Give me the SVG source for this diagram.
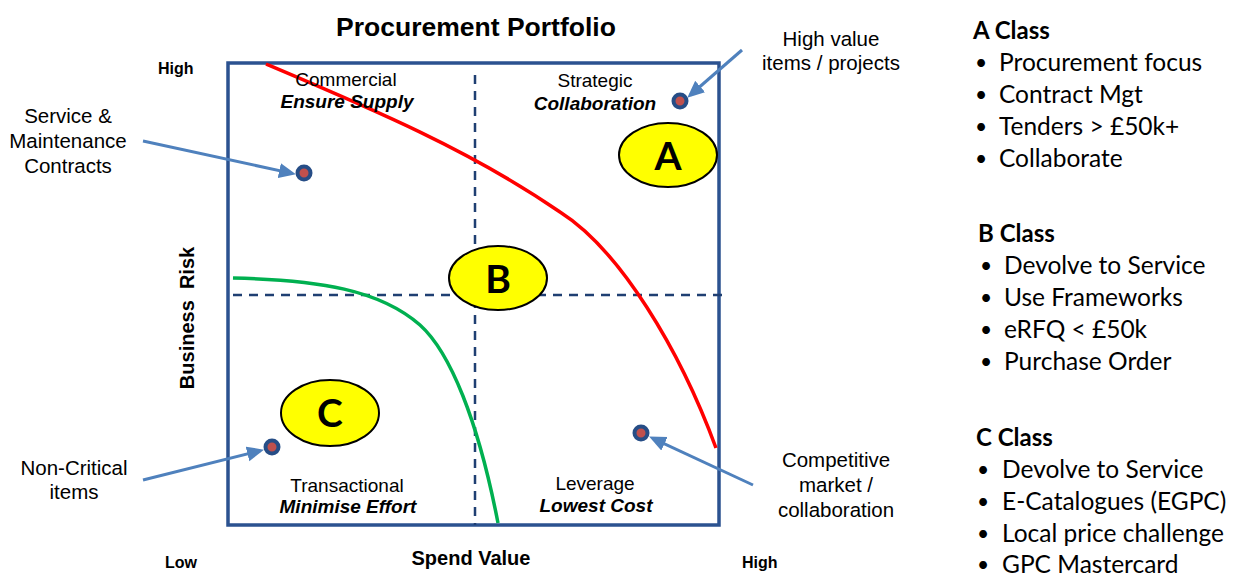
<svg xmlns="http://www.w3.org/2000/svg" width="1239" height="576" viewBox="0 0 1239 576">
<style>
.a{font-family:"Liberation Sans",Arial,sans-serif;fill:#000}
.t{font-size:26.5px;font-weight:bold;text-anchor:middle}
.ax{font-size:16px;font-weight:bold}
.axl{font-size:20px;font-weight:bold;text-anchor:middle}
.q{font-size:19px;text-anchor:middle}
.qb{font-size:19px;font-weight:bold;font-style:italic;text-anchor:middle}
.s{font-size:20.5px;text-anchor:middle}
.r{font-family:Lato,"Noto Sans",sans-serif;font-size:24.5px;fill:#000}
.bu{font-family:Lato,"Noto Sans",sans-serif;font-size:21px;fill:#000}
.rb{font-family:Lato,"Noto Sans",sans-serif;font-size:24px;font-weight:bold;fill:#000}
.el{fill:#FFFF00;stroke:#000;stroke-width:2}
.lt{font-family:Lato,"Noto Sans",sans-serif;font-size:39px;font-weight:bold;text-anchor:middle;fill:#000}
.dot{fill:#C0504D;stroke:#264D86;stroke-width:4}
.arr{stroke:#4F81BD;stroke-width:3;fill:none;marker-end:url(#ah)}
.dash{stroke:#1F3F72;stroke-width:2.5;stroke-dasharray:9 7;fill:none}
</style>
<defs>
<marker id="ah" markerUnits="userSpaceOnUse" markerWidth="18" markerHeight="16" refX="13" refY="7.5" orient="auto" viewBox="0 0 18 16">
<path d="M0,0 L17,7.5 L0,15 z" fill="#4F81BD"/>
</marker>
</defs>
<rect width="1239" height="576" fill="#fff"/>
<g id="title"><text class="a t" x="476" y="36">Procurement Portfolio</text></g>
<g id="matrix">
<rect x="228" y="63" width="491" height="462" fill="none" stroke="#2B5290" stroke-width="3.5"/>
<line class="dash" x1="475" y1="75" x2="475" y2="525"/>
<line class="dash" x1="233" y1="295" x2="727" y2="295"/>
</g>
<g id="curves">
<path d="M266,64 C370,108 470,150 560,212 C620,250 680,350 716,448" fill="none" stroke="#FF0000" stroke-width="3.5"/>
<path d="M233,278 C320,280 380,290 420,325 C450,352 478,420 498,523" fill="none" stroke="#00B050" stroke-width="3.5"/>
</g>
<g id="axes">
<text class="a ax" x="158" y="74">High</text>
<text class="a ax" x="165" y="568">Low</text>
<text class="a ax" x="742" y="568">High</text>
<text class="a axl" x="471" y="565">Spend Value</text>
<text class="a axl" transform="translate(194,318) rotate(-90)" xml:space="preserve">Business  Risk</text>
</g>
<g id="q-commercial"><text class="a q" x="346" y="86">Commercial</text><text class="a qb" x="347" y="108">Ensure Supply</text></g>
<g id="q-strategic"><text class="a q" x="595" y="87">Strategic</text><text class="a qb" x="595" y="110">Collaboration</text></g>
<g id="q-transactional"><text class="a q" x="347" y="492">Transactional</text><text class="a qb" x="348" y="513">Minimise Effort</text></g>
<g id="q-leverage"><text class="a q" x="595" y="490">Leverage</text><text class="a qb" x="596" y="512">Lowest Cost</text></g>
<g id="class-a"><ellipse class="el" cx="668" cy="155" rx="49" ry="32"/><text class="lt" x="668" y="170">A</text></g>
<g id="class-b"><ellipse class="el" cx="498" cy="278" rx="49" ry="32"/><text class="lt" x="498" y="293">B</text></g>
<g id="class-c"><ellipse class="el" cx="330" cy="413" rx="49" ry="33"/><text class="lt" x="330" y="427">C</text></g>
<g id="dot-service"><circle class="dot" cx="304" cy="173" r="6.5"/></g>
<g id="dot-highvalue"><circle class="dot" cx="680" cy="101" r="6.5"/></g>
<g id="dot-noncritical"><circle class="dot" cx="272" cy="447" r="6.5"/></g>
<g id="dot-competitive"><circle class="dot" cx="641" cy="433" r="6.5"/></g>
<g id="label-service"><text class="a s" x="68" y="123">Service &amp;</text><text class="a s" x="68" y="148">Maintenance</text><text class="a s" x="68" y="173">Contracts</text></g>
<g id="label-highvalue"><text class="a s" x="831" y="46">High value</text><text class="a s" x="831" y="70">items / projects</text></g>
<g id="label-noncritical"><text class="a s" x="74" y="475">Non-Critical</text><text class="a s" x="74" y="499">items</text></g>
<g id="label-competitive"><text class="a s" x="836" y="467">Competitive</text><text class="a s" x="836" y="492">market /</text><text class="a s" x="836" y="517">collaboration</text></g>
<g id="connectors">
<line class="arr" x1="143" y1="141" x2="292" y2="173.4"/>
<line class="arr" x1="742" y1="50" x2="690.3" y2="95"/>
<line class="arr" x1="143" y1="480" x2="260.1" y2="450.7"/>
<line class="arr" x1="753" y1="485" x2="652.7" y2="438.3"/>
</g>
<g id="panel-a">
<text class="rb" x="973" y="39">A Class</text>
<text class="bu" x="975" y="70">•</text><text class="r" x="999" y="71">Procurement focus</text>
<text class="bu" x="975" y="102">•</text><text class="r" x="999" y="103">Contract Mgt</text>
<text class="bu" x="975" y="134">•</text><text class="r" x="999" y="135">Tenders &gt; £50k+</text>
<text class="bu" x="975" y="166">•</text><text class="r" x="999" y="167">Collaborate</text>
</g>
<g id="panel-b">
<text class="rb" x="978" y="242">B Class</text>
<text class="bu" x="980" y="273">•</text><text class="r" x="1004" y="274">Devolve to Service</text>
<text class="bu" x="980" y="305">•</text><text class="r" x="1004" y="306">Use Frameworks</text>
<text class="bu" x="980" y="337">•</text><text class="r" x="1004" y="338">eRFQ &lt; £50k</text>
<text class="bu" x="980" y="369">•</text><text class="r" x="1004" y="370">Purchase Order</text>
</g>
<g id="panel-c">
<text class="rb" x="976" y="446">C Class</text>
<text class="bu" x="977" y="477">•</text><text class="r" x="1002" y="478">Devolve to Service</text>
<text class="bu" x="977" y="509">•</text><text class="r" x="1002" y="510">E-Catalogues (EGPC)</text>
<text class="bu" x="977" y="541">•</text><text class="r" x="1002" y="542">Local price challenge</text>
<text class="bu" x="977" y="572">•</text><text class="r" x="1002" y="573">GPC Mastercard</text>
</g>
</svg>
